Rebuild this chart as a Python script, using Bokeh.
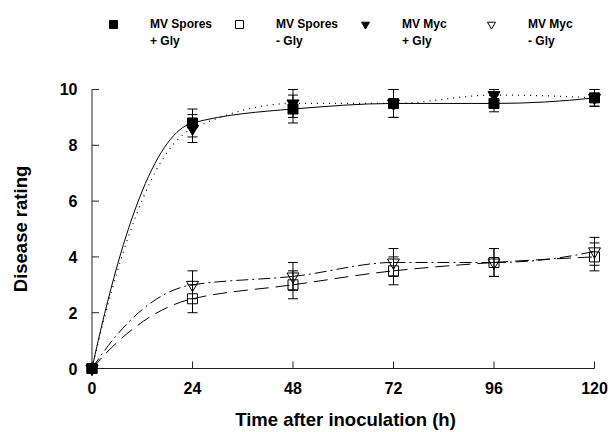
import numpy as np
from bokeh.plotting import figure
from bokeh.layouts import column
from bokeh.models import (Range1d, Whisker, TeeHead, ColumnDataSource, Legend,
                          LegendItem, FixedTicker)
from bokeh.embed import file_html
from bokeh.resources import INLINE

# ---------------- data ----------------
hours = [0, 24, 48, 72, 96, 120]
spores_gly = [0, 8.8, 9.3, 9.5, 9.5, 9.7]
spores_gly_err = [0, 0.5, 0.5, 0.5, 0.3, 0.3]
spores_nogly = [0, 2.5, 3.0, 3.5, 3.8, 4.0]
spores_nogly_err = [0, 0.5, 0.5, 0.5, 0.5, 0.5]
myc_gly = [0, 8.6, 9.5, 9.5, 9.8, 9.7]
myc_gly_err = [0, 0.5, 0.5, 0.5, 0.2, 0.3]
myc_nogly = [0, 3.0, 3.3, 3.8, 3.8, 4.2]
myc_nogly_err = [0, 0.5, 0.5, 0.5, 0.5, 0.5]
x_ticks = [0, 24, 48, 72, 96, 120]
y_ticks = [0, 2, 4, 6, 8, 10]
legend_line1 = ["MV Spores", "MV Spores", "MV Myc", "MV Myc"]
legend_line2 = ["+ Gly", "- Gly", "+ Gly", "- Gly"]
x_title = "Time after inoculation (h)"
y_title = "Disease rating"

FONT = "Liberation Sans"
AXIS_COLOR = "#222222"

# marker styles (shared by the plot and the legend)
STY_SPO = dict(marker="square", size=10, line_color="black", fill_color="black")
STY_SPO_NO = dict(marker="square", size=10, line_color="black", fill_alpha=0, line_width=1)
STY_MYC = dict(marker="inverted_triangle", size=12, line_color="black", fill_color="black")
STY_MYC_NO = dict(marker="inverted_triangle", size=12, line_color="black", fill_alpha=0,
                  line_width=1)


def smooth_segments(xs, ys):
    """Bezier control points of a smooth curve through the data points."""
    xs = np.asarray(xs, float)
    ys = np.asarray(ys, float)
    h = np.diff(xs)
    d = np.diff(ys) / h
    m = np.zeros_like(ys)
    for i in range(1, len(ys) - 1):
        if d[i - 1] * d[i] > 0:
            m[i] = 2.0 / (1.0 / d[i - 1] + 1.0 / d[i])
        else:
            m[i] = 0.0
    m[0] = 2 * d[0] - m[1]
    m[-1] = 2 * d[-1] - m[-2]
    return dict(x0=xs[:-1], y0=ys[:-1], x1=xs[1:], y1=ys[1:],
                cx0=xs[:-1] + h / 3, cy0=ys[:-1] + m[:-1] * h / 3,
                cx1=xs[1:] - h / 3, cy1=ys[1:] - m[1:] * h / 3)


def err_source(xs, ys, es):
    rows = [(x, y - e, y + e) for x, y, e in zip(xs, ys, es) if e > 0]
    return ColumnDataSource(dict(x=[r[0] for r in rows],
                                 lower=[r[1] for r in rows],
                                 upper=[r[2] for r in rows]))


# ---------------- legend strip (its view range shows none of the data) ----------------
lg = figure(width=611, height=60, x_range=Range1d(-2, -1), y_range=Range1d(-2, -1),
            output_backend="svg", toolbar_location=None,
            min_border_left=79, min_border_right=0, min_border_top=0, min_border_bottom=0)
lg.axis.visible = False
lg.xgrid.visible = False
lg.ygrid.visible = False
lg.outline_line_color = None

l_spo = lg.scatter(hours, spores_gly, **STY_SPO)
l_spo_no = lg.scatter(hours, spores_nogly, **STY_SPO_NO)
l_myc = lg.scatter(hours, myc_gly, **STY_MYC)
l_myc_no = lg.scatter(hours, myc_nogly, **STY_MYC_NO)
l_blank = lg.scatter(x=[], y=[], size=10, fill_alpha=0, line_alpha=0)

common = dict(orientation="horizontal", padding=0, margin=0, spacing=3,
              glyph_width=20, glyph_height=20, label_standoff=27, label_width=76,
              label_text_font=FONT, label_text_font_style="bold",
              label_text_font_size="12px", label_text_color="black",
              border_line_alpha=0, background_fill_alpha=0)
legend1 = Legend(items=[LegendItem(label=legend_line1[0], renderers=[l_spo]),
                        LegendItem(label=legend_line1[1], renderers=[l_spo_no]),
                        LegendItem(label=legend_line1[2], renderers=[l_myc]),
                        LegendItem(label=legend_line1[3], renderers=[l_myc_no])],
                 location=(24, 26), **common)
legend2 = Legend(items=[LegendItem(label=lbl, renderers=[l_blank]) for lbl in legend_line2],
                 location=(24, 9), **common)
lg.add_layout(legend1, "center")
lg.add_layout(legend2, "center")

# ---------------- main plot ----------------
p = figure(width=611, height=372,
           x_range=Range1d(-2.985, 124.06), y_range=Range1d(-0.358, 10.358),
           output_backend="svg", toolbar_location=None,
           min_border_left=79, min_border_right=0,
           min_border_top=19, min_border_bottom=54)
p.outline_line_color = None
p.xgrid.visible = False
p.ygrid.visible = False
p.background_fill_color = "white"
p.border_fill_color = "white"

for ax, ticks in ((p.xaxis, x_ticks), (p.yaxis, y_ticks)):
    ax.ticker = FixedTicker(ticks=ticks)
    ax.minor_tick_line_color = None
    ax.major_tick_line_color = None
    ax.axis_line_color = None
    ax.major_tick_in = 0
    ax.major_tick_out = 0
    ax.major_label_text_font = FONT
    ax.major_label_text_font_style = "bold"
    ax.major_label_text_font_size = "16px"
    ax.major_label_text_color = "black"
    ax.axis_label_text_font = FONT
    ax.axis_label_text_font_style = "bold"
    ax.axis_label_text_font_size = "18.5px"
    ax.axis_label_text_color = "black"

p.xaxis.axis_label = x_title
p.yaxis.axis_label = y_title
p.xaxis.major_label_standoff = 3
p.xaxis.axis_label_standoff = 12
p.yaxis.major_label_standoff = 2
p.yaxis.axis_label_standoff = 26

# axis lines crossing at the data origin, with inward ticks
p.segment(x0=[x_ticks[0], x_ticks[0]], y0=[y_ticks[0], y_ticks[0]],
          x1=[x_ticks[-1], x_ticks[0]], y1=[y_ticks[0], y_ticks[-1]],
          line_color=AXIS_COLOR, line_width=1)
p.ray(x=x_ticks, y=[y_ticks[0]] * len(x_ticks), length=7, angle=np.pi / 2,
      length_units="screen", line_color=AXIS_COLOR, line_width=1)
p.ray(x=[x_ticks[0]] * len(y_ticks), y=y_ticks, length=7, angle=0,
      length_units="screen", line_color=AXIS_COLOR, line_width=1)

# curves
p.bezier(source=ColumnDataSource(smooth_segments(hours, spores_gly)),
         x0="x0", y0="y0", x1="x1", y1="y1", cx0="cx0", cy0="cy0", cx1="cx1", cy1="cy1",
         line_color="black", line_width=1)
p.bezier(source=ColumnDataSource(smooth_segments(hours, myc_gly)),
         x0="x0", y0="y0", x1="x1", y1="y1", cx0="cx0", cy0="cy0", cx1="cx1", cy1="cy1",
         line_color="black", line_width=1.2, line_dash="1 5")
p.bezier(source=ColumnDataSource(smooth_segments(hours, myc_nogly)),
         x0="x0", y0="y0", x1="x1", y1="y1", cx0="cx0", cy0="cy0", cx1="cx1", cy1="cy1",
         line_color="black", line_width=1, line_dash="12 4 2 4")
p.bezier(source=ColumnDataSource(smooth_segments(hours, spores_nogly)),
         x0="x0", y0="y0", x1="x1", y1="y1", cx0="cx0", cy0="cy0", cx1="cx1", cy1="cy1",
         line_color="black", line_width=1, line_dash="14 7")

# error bars
for ys, es in ((spores_gly, spores_gly_err), (myc_gly, myc_gly_err),
               (spores_nogly, spores_nogly_err), (myc_nogly, myc_nogly_err)):
    w = Whisker(source=err_source(hours, ys, es), base="x", lower="lower", upper="upper",
                line_color="black", line_width=1,
                upper_head=TeeHead(size=10, line_color="black", line_width=1),
                lower_head=TeeHead(size=10, line_color="black", line_width=1))
    p.add_layout(w)

# markers
p.scatter(hours, myc_nogly, **STY_MYC_NO)
p.scatter(hours, spores_nogly, **STY_SPO_NO)
p.scatter(hours, myc_gly, **STY_MYC)
p.scatter(hours, spores_gly, **STY_SPO)

open("out.html", "w").write(file_html(column(lg, p, spacing=0), INLINE))
